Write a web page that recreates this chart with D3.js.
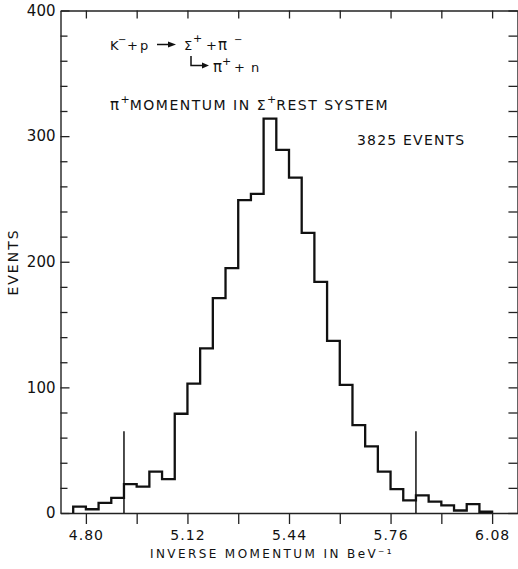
<!DOCTYPE html>
<html><head><meta charset="utf-8">
<script src="https://cdn.jsdelivr.net/npm/d3@7"></script>
<style>body{margin:0;background:#fff}svg{display:block}text{font-family:"DejaVu Sans",sans-serif;fill:#111}</style>
</head><body>
<script>
// ---- data ----
const binLo = [4.76,4.80,4.84,4.88,4.92,4.96,5.00,5.04,5.08,5.12,5.16,5.20,5.24,5.28,5.32,5.36,5.40,5.44,5.48,5.52,5.56,5.60,5.64,5.68,5.72,5.76,5.80,5.84,5.88,5.92,5.96,6.00,6.04];
const binWidth = 0.04;
const counts = [5,3,8,12,23,21,33,27,79,103,131,171,195,249,254,314,289,267,223,184,137,102,70,53,33,19,10,14,9,6,2,7,1];
const xTicks = [4.80,4.96,5.12,5.28,5.44,5.60,5.76,5.92,6.08];
const xTickLabels = ["4.80","5.12","5.44","5.76","6.08"];
const yMajor = [0,100,200,300,400];
const yMinor = [20,40,60,80,120,140,160,180,220,240,260,280,320,340,360,380];
const markerX = [4.92,5.84];
const markerHeight = 65;

const W = 518, H = 569;
const svg = d3.select("body").append("svg").attr("width", W).attr("height", H);
const x = d3.scaleLinear().domain([4.72, 6.16]).range([60.5, 517.5]);
const y = d3.scaleLinear().domain([0, 400]).range([513, 10.5]);

const axisStyle = g => { g.selectAll("path,line").attr("stroke", "#222").attr("stroke-width", 1.3); g.select(".domain").attr("stroke-width", 1.4); };

// bottom axis
svg.append("g").attr("transform", `translate(0,${y(0)})`)
  .call(d3.axisBottom(x).tickValues(xTicks).tickSizeInner(11).tickSizeOuter(0).tickPadding(6)
    .tickFormat(d => xTickLabels.includes(d.toFixed(2)) ? d.toFixed(2) : ""))
  .call(axisStyle)
  .call(g => g.selectAll("text").attr("font-size", 14).attr("letter-spacing", 1).attr("fill", "#111").attr("font-family", "DejaVu Sans"));
// top axis
svg.append("g").attr("transform", `translate(0,${y(400)})`)
  .call(d3.axisTop(x).tickValues(xTicks).tickSizeInner(-8).tickSizeOuter(0).tickFormat(""))
  .call(axisStyle);
// left axis
svg.append("g").attr("transform", `translate(${x(4.72)},0)`)
  .call(d3.axisLeft(y).tickValues(yMajor).tickSizeInner(-9).tickSizeOuter(0).tickPadding(5).tickFormat(d3.format("d")))
  .call(axisStyle)
  .call(g => g.selectAll("text").attr("font-size", 15).attr("fill", "#111").attr("font-family", "DejaVu Sans"));
svg.append("g").attr("transform", `translate(${x(4.72)},0)`)
  .call(d3.axisLeft(y).tickValues(yMinor).tickSizeInner(-7).tickSizeOuter(0).tickFormat(""))
  .call(axisStyle).call(g => g.select(".domain").remove());
// right axis
svg.append("g").attr("transform", `translate(${x(6.16)},0)`)
  .call(d3.axisRight(y).tickValues(yMajor.concat(yMinor)).tickSizeInner(-9).tickSizeOuter(0).tickFormat(""))
  .call(axisStyle);

// histogram
const pts = [[x(binLo[0]), y(0)]];
binLo.forEach((b, i) => { pts.push([x(b), y(counts[i])]); pts.push([x(b + binWidth), y(counts[i])]); });
pts.push([x(binLo[binLo.length - 1] + binWidth), y(0)]);
svg.append("path").attr("d", d3.line()(pts)).attr("fill", "none").attr("stroke", "#111").attr("stroke-width", 2.3).attr("stroke-linejoin", "miter");

// markers
svg.selectAll(".mk").data(markerX).join("line")
  .attr("x1", d => x(d)).attr("x2", d => x(d)).attr("y1", y(0)).attr("y2", y(markerHeight))
  .attr("stroke", "#111").attr("stroke-width", 1.5);

// axis titles
svg.append("text").attr("x", 272).attr("y", 558).attr("text-anchor", "middle")
  .attr("font-size", 12).attr("letter-spacing", 2.4).text("INVERSE MOMENTUM IN BeV⁻¹");
svg.append("text").attr("transform", "translate(18,262) rotate(-90)").attr("text-anchor", "middle")
  .attr("font-size", 14).attr("letter-spacing", 2).text("EVENTS");

// annotations: reaction line
const tok = (tx, ty, s, fs) => svg.append("text").attr("x", tx).attr("y", ty).attr("font-size", fs).text(s);
tok(110, 49.5, "K", 13);
tok(118, 43, "−", 10);
tok(127, 49.5, "+", 13);
tok(140, 49.5, "p", 13);
svg.append("path").attr("d", "M157,44.5 L169,44.5").attr("stroke", "#111").attr("stroke-width", 1.5);
svg.append("path").attr("d", "M168,41.5 L176,44.5 L168,47.5 Z").attr("fill", "#111");
tok(184, 49.5, "Σ", 13);
tok(193, 42, "+", 11);
tok(206, 49.5, "+", 13);
tok(218, 49.5, "π", 15);
tok(234, 43, "−", 10);
svg.append("path").attr("d", "M191,56 L191,65.5 L203,65.5").attr("fill", "none").attr("stroke", "#111").attr("stroke-width", 1.5);
svg.append("path").attr("d", "M202,62.5 L209,65.5 L202,68.5 Z").attr("fill", "#111");
tok(213, 72, "π", 15);
tok(222, 65, "+", 11);
tok(234, 72, "+", 13);
tok(251, 72, "n", 13);

// momentum line as one flowing text with superscripts
const t3 = svg.append("text").attr("x", 110).attr("y", 110).attr("font-size", 14).attr("letter-spacing", 1.5);
t3.append("tspan").attr("font-size", 15).text("π");
t3.append("tspan").attr("font-size", 11).attr("dy", -7).attr("letter-spacing", 0).text("+");
t3.append("tspan").attr("dy", 7).text("MOMENTUM IN Σ");
t3.append("tspan").attr("font-size", 11).attr("dy", -7).attr("letter-spacing", 0).text("+");
t3.append("tspan").attr("dy", 7).text("REST SYSTEM");

svg.append("text").attr("x", 357).attr("y", 145).attr("font-size", 14).attr("letter-spacing", 1.2).text("3825 EVENTS");
</script>
</body></html>
